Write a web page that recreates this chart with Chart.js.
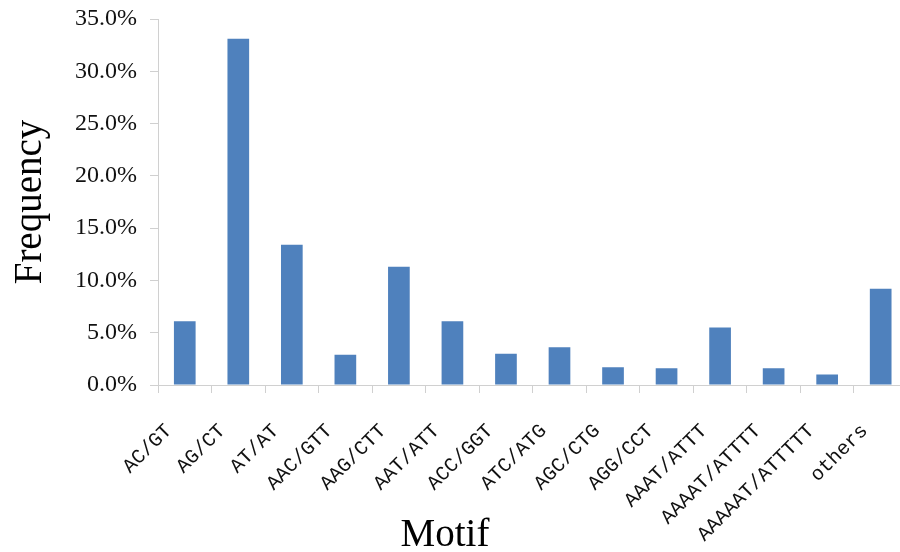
<!DOCTYPE html>
<html>
<head>
<meta charset="utf-8">
<script src="https://cdn.jsdelivr.net/npm/chart.js@4"></script>
<style>
    html, body { margin: 0; padding: 0; background: #fff; overflow: hidden; }
    #wrap { width: 952px; height: 552px; margin-left: -31px; }
</style>
</head>
<body>
<div id="wrap"><canvas id="myChart" width="952" height="552"></canvas></div>
<script>
const motifs = ["AC/GT", "AG/CT", "AT/AT", "AAC/GTT", "AAG/CTT", "AAT/ATT", "ACC/GGT",
    "ATC/ATG", "AGC/CTG", "AGG/CCT", "AAAT/ATTT", "AAAAT/ATTTT", "AAAAAT/ATTTTT", "others"];
const frequency = [6.1, 33.1, 13.4, 2.9, 11.3, 6.1, 3.0, 3.6, 1.7, 1.6, 5.5, 1.6, 1.0, 9.2];
const yTicks = [0, 5, 10, 15, 20, 25, 30, 35];

const serif = "'Liberation Serif', 'DejaVu Serif', serif";
const mono = "'Liberation Mono', 'DejaVu Sans Mono', monospace";
const axisGrey = "#d0d0d0";
const shift = 31; // canvas sits this far left of the page so "Motif" lands mid-picture

const ctx = document.getElementById('myChart').getContext('2d');
const chart = new Chart(ctx, {
    type: 'bar',
    data: {
        labels: motifs,
        datasets: [{
            data: frequency,
            backgroundColor: '#4F81BD',
            borderWidth: 0,
            barPercentage: 0.405,
            categoryPercentage: 1.0
        }]
    },
    options: {
        responsive: false,
        devicePixelRatio: 1,
        animation: false,
        layout: {
            padding: { top: 19, right: 0, bottom: 0, left: 0 }
        },
        scales: {
            x: {
                grid: {
                    drawOnChartArea: false,
                    drawTicks: true,
                    tickLength: 8,
                    color: axisGrey
                },
                border: { color: axisGrey },
                ticks: {
                    autoSkip: false,
                    maxRotation: 45,
                    minRotation: 45,
                    padding: 29,
                    labelOffset: -16,
                    color: '#111',
                    font: { family: mono, size: 20, lineHeight: 0.8 }
                },
                // axis box runs to the bottom edge so the long labels are not clipped
                afterFit: (scale) => { scale.height = 166; }
            },
            y: {
                min: yTicks[0],
                max: yTicks[yTicks.length - 1],
                grid: {
                    drawOnChartArea: false,
                    drawTicks: true,
                    tickLength: 8,
                    color: axisGrey
                },
                border: { color: axisGrey },
                ticks: {
                    stepSize: 5,
                    padding: 13,
                    color: '#111',
                    font: { family: serif, size: 24, lineHeight: 0.4 },
                    callback: (v) => v.toFixed(1) + '%'
                },
                title: {
                    display: true,
                    text: 'Frequency',
                    color: '#000',
                    font: { family: serif, size: 39 },
                    padding: { top: 7 + shift, bottom: 0 }
                },
                afterFit: (scale) => { scale.width = 158 + shift; }
            }
        },
        plugins: {
            legend: { display: false },
            tooltip: { enabled: false },
            title: {
                display: true,
                position: 'bottom',
                text: 'Motif',
                color: '#000',
                font: { family: serif, size: 39, weight: 'normal', lineHeight: 1 },
                padding: { top: -35, bottom: -3 }
            }
        }
    }
});
</script>
</body>
</html>
